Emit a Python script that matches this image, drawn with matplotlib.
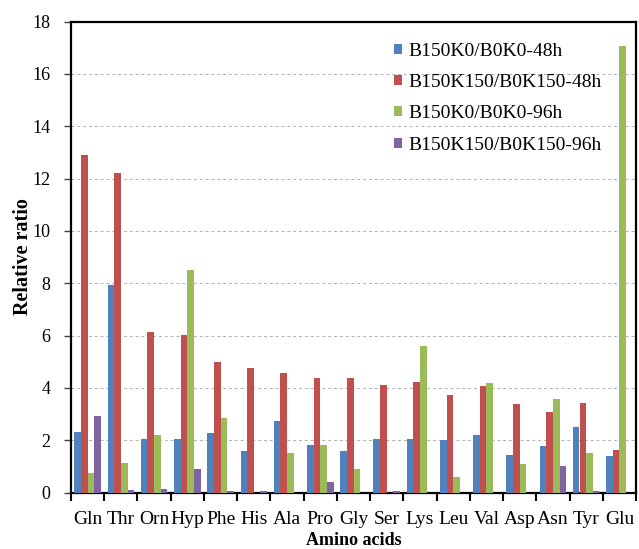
import numpy as np
import matplotlib.pyplot as plt

plt.rcParams['font.family'] = ['Liberation Serif', 'DejaVu Serif']

amino = ['Gln', 'Thr', 'Orn', 'Hyp', 'Phe', 'His', 'Ala', 'Pro', 'Gly',
         'Ser', 'Lys', 'Leu', 'Val', 'Asp', 'Asn', 'Tyr', 'Glu']

k0_48 = [2.33, 7.93, 2.04, 2.03, 2.27, 1.57, 2.72, 1.80, 1.57,
         2.05, 2.03, 2.01, 2.20, 1.42, 1.76, 2.52, 1.40]
k150_48 = [12.9, 12.2, 6.13, 6.02, 5.0, 4.76, 4.55, 4.37, 4.36,
           4.10, 4.22, 3.71, 4.07, 3.38, 3.07, 3.41, 1.61]
k0_96 = [0.75, 1.12, 2.18, 8.50, 2.86, 0.0, 1.52, 1.80, 0.90,
         0.0, 5.60, 0.60, 4.17, 1.08, 3.57, 1.51, 17.05]
k150_96 = [2.93, 0.08, 0.15, 0.90, 0.04, 0.06, 0.0, 0.42, 0.0,
           0.06, 0.0, 0.0, 0.0, 0.0, 1.02, 0.04, 0.0]

series = [k0_48, k150_48, k0_96, k150_96]
names = ['B150K0/B0K0-48h', 'B150K150/B0K150-48h',
         'B150K0/B0K0-96h', 'B150K150/B0K150-96h']
colors = ['#4F81BD', '#C0504D', '#9BBB59', '#8064A2']

fig = plt.figure(figsize=(6.39, 5.49), dpi=100)
ax = fig.add_axes([71 / 639, 1 - 492.5 / 549, 565 / 639, 471 / 549])

x = np.arange(len(amino))
w = 0.2
for i, (vals, name, c) in enumerate(zip(series, names, colors)):
    ax.bar(x + (i - 1.5) * w, vals, w, color=c, label=name, zorder=3)

ax.set_xlim(-0.5, len(amino) - 0.5)
ax.set_ylim(0, 18)
ax.set_yticks(np.arange(0, 19, 2))
ax.set_xticks(x)
ax.set_xticklabels(amino, fontsize=14)
ax.set_xticks(np.arange(-0.5, len(amino)), minor=True)
ax.tick_params(axis='x', which='major', length=0, pad=13)
ax.tick_params(axis='x', which='minor', length=6, width=1.5, direction='out')
ax.tick_params(axis='y', length=5, width=1.0, direction='out', labelsize=13,
               pad=10, color='#404040')

ax.yaxis.grid(True, linestyle=(0, (3, 3)), color='#b0b0b0', linewidth=0.7, zorder=0)
ax.set_axisbelow(True)
for s in ax.spines.values():
    s.set_linewidth(1.6)
    s.set_color('black')

ax.set_xlabel('Amino acids', fontsize=13, fontweight='bold', labelpad=3)
ax.set_ylabel('Relative ratio', fontsize=14.5, fontweight='bold', labelpad=-1)

ax.legend(loc='upper left', bbox_to_anchor=(394 / 639, 1 - 43 / 549),
          bbox_transform=fig.transFigure, frameon=False, fontsize=14,
          handlelength=0.42, handleheight=0.42, handletextpad=0.3,
          labelspacing=0.73, borderpad=0, borderaxespad=0)

fig.savefig('out.png', dpi=100)
